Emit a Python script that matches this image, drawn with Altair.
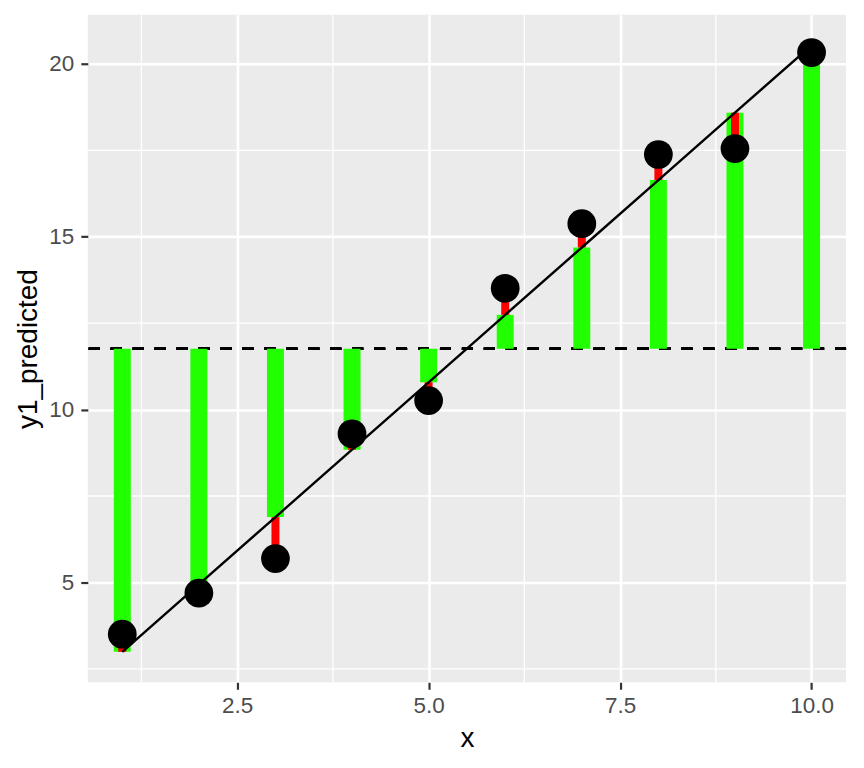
import altair as alt
import pandas as pd

# values
x_vals = [1, 2, 3, 4, 5, 6, 7, 8, 9, 10]
y_actual = [3.50, 4.69, 5.69, 9.30, 10.26, 13.51, 15.38, 17.38, 17.55, 20.33]
y_predicted = [2.99, 4.94, 6.89, 8.84, 10.79, 12.74, 14.69, 16.64, 18.59, 20.54]
y_mean = 11.76

x_major = [2.5, 5.0, 7.5, 10.0]
x_minor = [1.25, 3.75, 6.25, 8.75]
y_major = [5, 10, 15, 20]
y_minor = [2.5, 7.5, 12.5, 17.5]

df = pd.DataFrame({"x": x_vals, "y1": y_actual, "y1_predicted": y_predicted})
df["mean"] = y_mean

FONT = "Liberation Sans"
xscale = alt.Scale(domain=[0.55, 10.45], nice=False, zero=False)
yscale = alt.Scale(domain=[2.11, 21.42], nice=False, zero=False)

xaxis = alt.Axis(values=x_major, format=".1f", title="x", grid=True, gridColor="white",
                 gridWidth=2.6, domain=False, tickColor="#333333", tickSize=7, tickWidth=2.2,
                 labelFont=FONT, labelFontSize=22.5, labelColor="#4D4D4D", labelPadding=5,
                 titleFont=FONT, titleFontSize=28, titleFontWeight="normal", titleColor="black",
                 titleBaseline="alphabetic", titleY=64.5)
yaxis = alt.Axis(values=y_major, format="d", title="y1_predicted", grid=True, gridColor="white",
                 gridWidth=2.6, domain=False, tickColor="#333333", tickSize=7, tickWidth=2.2,
                 labelFont=FONT, labelFontSize=22.5, labelColor="#4D4D4D", labelPadding=7,
                 titleFont=FONT, titleFontSize=28, titleFontWeight="normal", titleColor="black",
                 titleBaseline="alphabetic", titleAngle=-90, titleAlign="center",
                 titleX=-51, titleY=334.5)

base = alt.Chart(df)

minor_x = alt.Chart(pd.DataFrame({"v": x_minor})).mark_rule(color="white", strokeWidth=1.3).encode(
    x=alt.X("v:Q", scale=xscale, axis=xaxis))
minor_y = alt.Chart(pd.DataFrame({"v": y_minor})).mark_rule(color="white", strokeWidth=1.3).encode(
    y=alt.Y("v:Q", scale=yscale, axis=yaxis))

mean_line = base.mark_rule(color="black", strokeWidth=2.6, strokeDash=[11, 11]).encode(
    y=alt.Y("mean:Q", scale=yscale, axis=yaxis))

green = base.mark_rule(color="#22FF00", strokeWidth=17).encode(
    x=alt.X("x:Q", scale=xscale, axis=xaxis),
    y=alt.Y("mean:Q", scale=yscale, axis=yaxis),
    y2="y1_predicted:Q")

red = base.mark_rule(color="#FF0000", strokeWidth=8).encode(
    x=alt.X("x:Q", scale=xscale, axis=xaxis),
    y=alt.Y("y1_predicted:Q", scale=yscale, axis=yaxis),
    y2="y1:Q")

fit = base.mark_line(color="black", strokeWidth=2.4).encode(
    x=alt.X("x:Q", scale=xscale, axis=xaxis),
    y=alt.Y("y1_predicted:Q", scale=yscale, axis=yaxis))

pts = base.mark_circle(color="black", opacity=1, size=830).encode(
    x=alt.X("x:Q", scale=xscale, axis=xaxis),
    y=alt.Y("y1:Q", scale=yscale, axis=yaxis))

chart = alt.layer(minor_x, minor_y, mean_line, green, red, fit, pts).properties(
    width=760, height=669,
    autosize=alt.AutoSizeParams(type="none"),
    padding={"left": 80, "top": 6, "right": 10, "bottom": 70},
).configure(
    background="white",
    view=alt.ViewConfig(fill="#EBEBEB", stroke=None),
)

chart.save("out.html", embed_options={"renderer": "svg", "actions": False})
